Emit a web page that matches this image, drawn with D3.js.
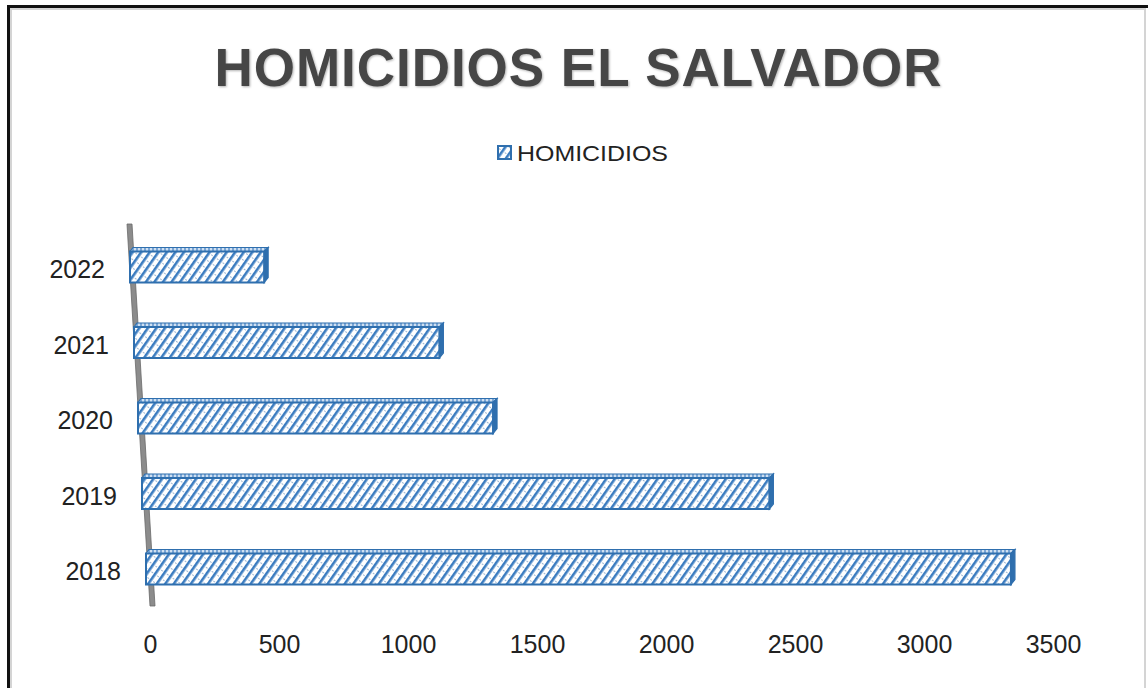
<!DOCTYPE html>
<html>
<head>
<meta charset="utf-8">
<script src="https://cdn.jsdelivr.net/npm/d3@7"></script>
<style>
  body { margin: 0; background: #fff; }
  svg { display: block; }
</style>
</head>
<body>
<script>
// data
var years = ["2018", "2019", "2020", "2021", "2022"];
var homicidios = [3346, 2398, 1341, 1140, 495];
var tickValues = [0, 500, 1000, 1500, 2000, 2500, 3000, 3500];
var seriesName = "HOMICIDIOS";
var chartTitle = "HOMICIDIOS EL SALVADOR";

var width = 1148,
    height = 688;

var svg = d3.select("body")
    .append("svg")
    .attr("width", width)
    .attr("height", height);

// frame
svg.append("rect").attr("x", 0).attr("y", 0).attr("width", width).attr("height", height).attr("fill", "#fff");
svg.append("rect")
    .attr("x", 11).attr("y", 9).attr("width", 1134).attr("height", 700)
    .attr("fill", "none").attr("stroke", "#d4d4d4").attr("stroke-width", 2);
svg.append("path")
    .attr("d", "M8.5,700 L8.5,6.5 L1148,6.5")
    .attr("fill", "none").attr("stroke", "#111").attr("stroke-width", 3);

// hatch pattern
var defs = svg.append("defs");
var pat = defs.append("pattern")
    .attr("id", "hatch")
    .attr("patternUnits", "userSpaceOnUse")
    .attr("width", 7).attr("height", 7)
    .attr("patternTransform", "rotate(35)");
pat.append("rect").attr("width", 7).attr("height", 7).attr("fill", "#fff");
pat.append("rect").attr("x", 0).attr("y", 0).attr("width", 2.6).attr("height", 7).attr("fill", "#3b7cc0");
pat.append("circle").attr("cx", 5).attr("cy", 3.5).attr("r", 0.6).attr("fill", "#2a5f99");

var patTop = defs.append("pattern")
    .attr("id", "hatchTop")
    .attr("patternUnits", "userSpaceOnUse")
    .attr("width", 4).attr("height", 4);
patTop.append("rect").attr("width", 4).attr("height", 4).attr("fill", "#cfe0f1");
patTop.append("rect").attr("width", 2).attr("height", 4).attr("fill", "#7aa6d6");

// title
svg.append("text")
    .attr("x", 578).attr("y", 86)
    .attr("text-anchor", "middle")
    .attr("textLength", 727)
    .attr("lengthAdjust", "spacing")
    .style("font-family", "'Liberation Sans', Arial, sans-serif")
    .style("font-weight", "bold")
    .style("font-size", "53px")
    .style("fill", "#464646")
    .style("filter", "drop-shadow(1px 1px 1px rgba(0,0,0,0.3))")
    .text(chartTitle);

// legend
svg.append("rect")
    .attr("x", 498).attr("y", 146).attr("width", 13).attr("height", 13)
    .attr("fill", "url(#hatch)").attr("stroke", "#2f6fae").attr("stroke-width", 2);
svg.append("text")
    .attr("x", 517).attr("y", 161)
    .attr("textLength", 151)
    .attr("lengthAdjust", "spacingAndGlyphs")
    .style("font-family", "'Liberation Sans', Arial, sans-serif")
    .style("font-size", "22px")
    .style("fill", "#222")
    .text(seriesName);

// scales
var x = d3.scaleLinear().domain([0, 3500]).range([150, 1053]);
var y = d3.scalePoint().domain(years).range([568, 266]);
// perspective: bar origin and unit length shift with depth
var originAt = d3.scaleLinear().domain([568, 266]).range([146, 130]);
var unitAt = d3.scaleLinear().domain([568, 266]).range([0.2585, 0.271]);
var labelAt = d3.scaleLinear().domain([568, 266]).range([121, 105]);
var barH = 31, topH = 4;

// back wall (slanted axis)
svg.append("path")
    .attr("d", "M127,224 L132,224 L155,606 L150,606 Z")
    .attr("fill", "#8c8c8c").attr("stroke", "#6a6a6a").attr("stroke-width", 0.8);

var rows = years.map(function (yr, i) { return { year: yr, value: homicidios[i] }; });

var g = svg.selectAll("g.bar")
    .data(rows)
    .enter()
    .append("g")
    .attr("class", "bar");

g.each(function (d) {
    var cy = y(d.year);
    var x0 = originAt(cy);
    var xs = d3.scaleLinear().domain([0, 3500]).range([x0, x0 + 3500 * unitAt(cy)]);
    var x1 = xs(d.value);
    var top = cy - barH / 2 + 1;
    var sel = d3.select(this);
    // top face
    sel.append("path")
        .attr("d", "M" + x0 + "," + top + " L" + (x0 + 3) + "," + (top - topH) + " L" + (x1 + 4) + "," + (top - topH) + " L" + x1 + "," + top + " Z")
        .attr("fill", "url(#hatchTop)").attr("stroke", "#2f6fae").attr("stroke-width", 1.2);
    // side face
    sel.append("path")
        .attr("d", "M" + x1 + "," + top + " L" + (x1 + 4) + "," + (top - topH) + " L" + (x1 + 4) + "," + (top + barH - topH - 1) + " L" + x1 + "," + (top + barH) + " Z")
        .attr("fill", "#2f6fae").attr("stroke", "#2f6fae").attr("stroke-width", 1.2);
    // front face
    sel.append("rect")
        .attr("x", x0).attr("y", top)
        .attr("width", x1 - x0).attr("height", barH)
        .attr("fill", "url(#hatch)")
        .attr("stroke", "#2f6fae").attr("stroke-width", 2);
    // category label
    sel.append("text")
        .attr("x", labelAt(cy)).attr("y", cy + 12)
        .attr("text-anchor", "end")
        .style("font-family", "'Liberation Sans', Arial, sans-serif")
        .style("font-size", "25px")
        .style("fill", "#222")
        .text(d.year);
});

// value axis
var axis = svg.append("g")
    .attr("transform", "translate(0,628)")
    .call(d3.axisBottom(x).tickValues(tickValues).tickFormat(d3.format("d")).tickSize(0).tickPadding(7));
axis.select(".domain").remove();
axis.selectAll("text")
    .style("font-family", "'Liberation Sans', Arial, sans-serif")
    .style("font-size", "25px")
    .style("fill", "#222");
</script>
</body>
</html>
